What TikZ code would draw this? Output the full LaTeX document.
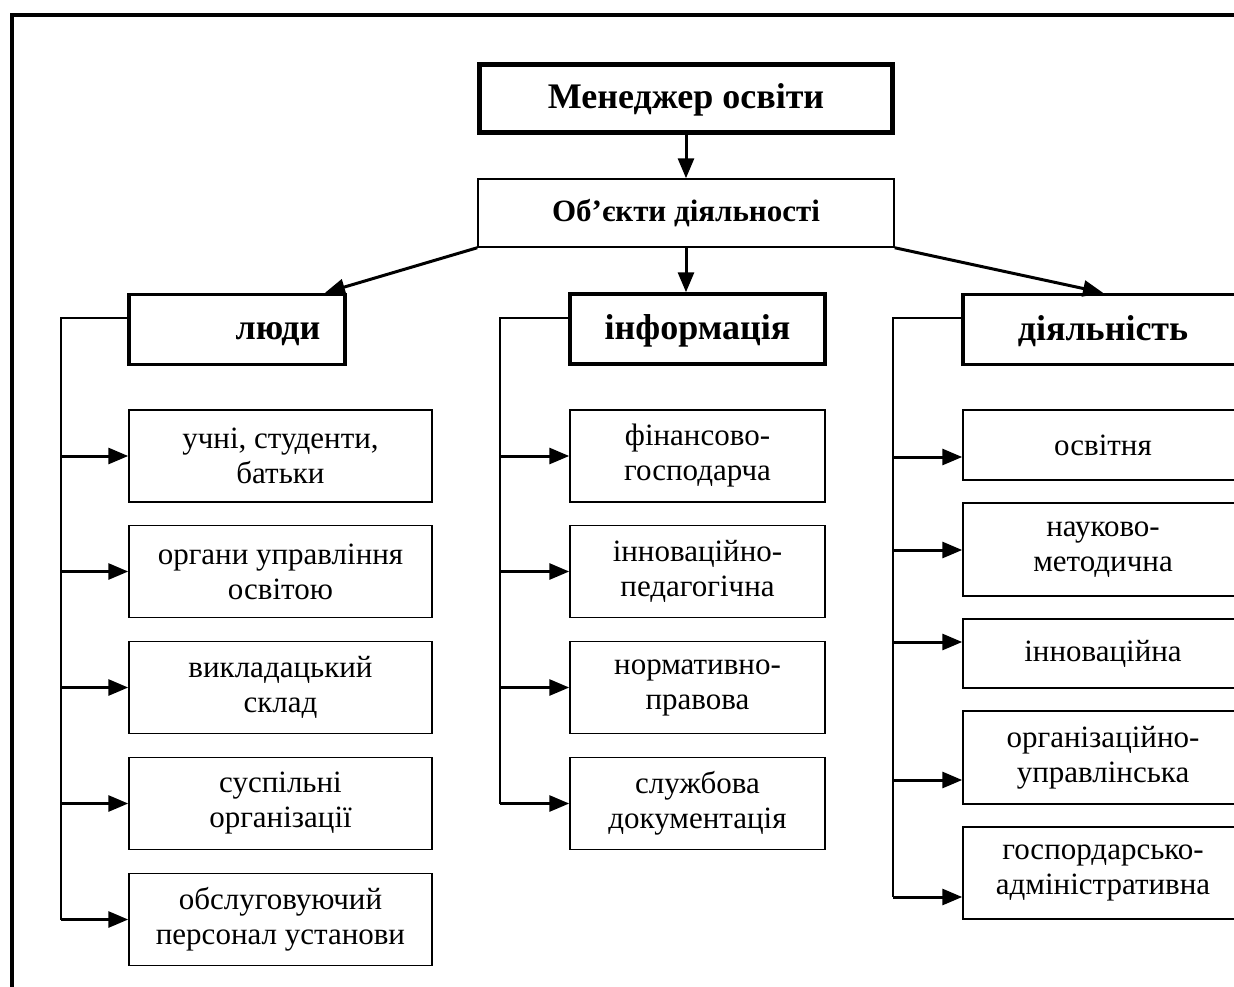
\documentclass[tikz,border=0pt]{standalone}
\usepackage{fontspec}
\setmainfont{Liberation Serif}
\usetikzlibrary{arrows.meta,calc}

\begin{document}
\begin{tikzpicture}[x=1pt,y=-1pt,
    >={Triangle[length=20pt,width=16pt]},
    bossbox/.style={rectangle, draw, line width=5pt,
        minimum width=413, minimum height=68,
        text height=25pt, text depth=4pt,
        font=\bfseries\fontsize{36}{40}\selectfont},
    objbox/.style={rectangle, draw, line width=1.5pt,
        minimum width=416, minimum height=68,
        font=\bfseries\fontsize{31}{35}\selectfont},
    headbox/.style={rectangle, draw, line width=3.5pt,
        minimum height=70,
        text height=25pt, text depth=4pt,
        font=\bfseries\fontsize{36}{40}\selectfont},
    itembox/.style={rectangle, draw, line width=1.5pt,
        align=center, inner sep=0pt,
        font=\fontsize{31}{35}\selectfont},
    link/.style={->, line width=3pt},
    spine/.style={line width=2pt}]

    \useasboundingbox (0,0) rectangle (1234,986);
    \clip (0,0) rectangle (1234,986);

    % frame
    \draw[line width=3.5pt] (12,1000) -- (12,15) -- (1250,15);

    \node[bossbox] (boss) at (686,98) {Менеджер освіти};
    \node[objbox] (obj) at (686,213) {Об’єкти діяльності};

    \node[headbox, minimum width=216] (people) at (237,329.5) {};
    \node[font=\bfseries\fontsize{36}{40}\selectfont] (peoplelbl) at ($(people.center)+(41,5)$) {люди};
    \node[headbox, minimum width=255] (info) at (697.5,329) {інформація};
    \node[headbox, minimum width=280] (act) at (1103,329.5) {діяльність};

    %people column
    \node[itembox, minimum width=303, minimum height=92] (p1) at (280.5,456) {учні, студенти,\\батьки};
    \node[itembox, minimum width=303, minimum height=92] (p2) at (280.5,571.5) {органи управління\\освітою};
    \node[itembox, minimum width=303, minimum height=92] (p3) at (280.5,687.5) {викладацький\\склад};
    \node[itembox, minimum width=303, minimum height=92] (p4) at (280.5,803.5) {суспільні\\організації};
    \node[itembox, minimum width=303, minimum height=92] (p5) at (280.5,919.5) {обслуговуючий\\персонал установи};

    %info column
    \node[itembox, minimum width=255, minimum height=92] (i1) at (697.5,456) {фінансово-\\господарча};
    \node[itembox, minimum width=255, minimum height=92] (i2) at (697.5,571.5) {інноваційно-\\педагогічна};
    \node[itembox, minimum width=255, minimum height=92] (i3) at (697.5,687.5) {нормативно-\\правова};
    \node[itembox, minimum width=255, minimum height=92] (i4) at (697.5,803.5) {службова\\документація};

    %activity column
    \node[itembox, minimum width=280, minimum height=70] (a1) at (1103,445) {освітня};
    \node[itembox, minimum width=280, minimum height=93] (a2) at (1103,549.5) {науково-\\методична};
    \node[itembox, minimum width=280, minimum height=69] (a3) at (1103,653.5) {інноваційна};
    \node[itembox, minimum width=280, minimum height=93] (a4) at (1103,757.5) {організаційно-\\управлінська};
    \node[itembox, minimum width=280, minimum height=92] (a5) at (1103,873) {госпордарсько-\\адміністративна};

    \coordinate (pspine) at (61,318);
    \coordinate (ispine) at (500,318);
    \coordinate (aspine) at (893,318);
    \coordinate (aa1) at (893,457);
    \coordinate (aa2) at (893,550);
    \coordinate (aa3) at (893,642);
    \coordinate (aa4) at (893,780);
    \coordinate (aa5) at (893,897);

    \draw[link] (boss) -- (obj);
    \draw[link] (obj.south west) -- ($(people.north)+(88,0)$);
    \draw[link] (obj.south) -- (obj.south |- info.north);
    \draw[link] (obj.south east) -- (act.north);

    \draw[spine] (pspine -| people.west) -- (pspine) -- (pspine |- p5.west);
    \draw[spine] (ispine -| info.west) -- (ispine) -- (ispine |- i4.west);
    \draw[spine] (aspine -| act.west) -- (aspine) -- (aa5);

    \draw[link] (pspine |- p1.west) -- (p1.west);
    \draw[link] (pspine |- p2.west) -- (p2.west);
    \draw[link] (pspine |- p3.west) -- (p3.west);
    \draw[link] (pspine |- p4.west) -- (p4.west);
    \draw[link] (pspine |- p5.west) -- (p5.west);

    \draw[link] (ispine |- i1.west) -- (i1.west);
    \draw[link] (ispine |- i2.west) -- (i2.west);
    \draw[link] (ispine |- i3.west) -- (i3.west);
    \draw[link] (ispine |- i4.west) -- (i4.west);

    \draw[link] (aa1) -- (aa1 -| a1.west);
    \draw[link] (aa2) -- (aa2 -| a2.west);
    \draw[link] (aa3) -- (aa3 -| a3.west);
    \draw[link] (aa4) -- (aa4 -| a4.west);
    \draw[link] (aa5) -- (aa5 -| a5.west);

\end{tikzpicture}
\end{document}
